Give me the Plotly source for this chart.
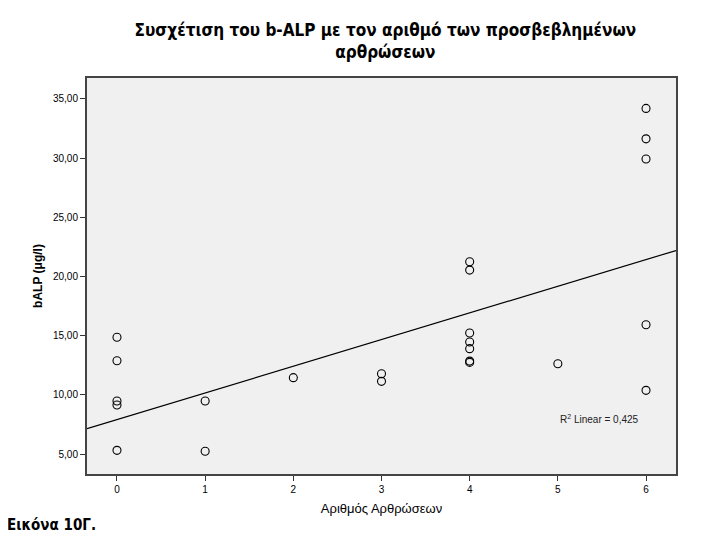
import numpy as np
import plotly.graph_objects as go

# Number of affected joints vs bALP
joints = [0, 0, 0, 0, 0,
          1, 1,
          2,
          3, 3,
          4, 4, 4, 4, 4, 4, 4,
          5,
          6, 6, 6, 6, 6]
balp = [14.86, 12.88, 9.48, 9.14, 5.31,
        9.48, 5.23,
        11.45,
        11.78, 11.14,
        21.24, 20.54, 15.22, 14.46, 13.90, 12.85, 12.74,
        12.63,
        34.20, 31.63, 29.92, 15.92, 10.38]

x_ticks = [0, 1, 2, 3, 4, 5, 6]
y_ticks = [5, 10, 15, 20, 25, 30, 35]

# linear fit drawn across the whole x range
x_range = [-0.34, 6.34]
slope, intercept = np.polyfit(joints, balp, 1)
fit_x = np.array(x_range)
fit_y = slope * fit_x + intercept

fig = go.Figure()
fig.add_trace(go.Scatter(x=joints, y=balp, mode='markers',
                         marker=dict(symbol='circle-open', size=8, color='black', line=dict(width=1.1))))
fig.add_trace(go.Scatter(x=fit_x, y=fit_y, mode='lines', line=dict(color='black', width=1.2)))

fig.add_annotation(x=5.47, y=7.96, text='R<sup>2</sup> Linear = 0,425', showarrow=False,
                   font=dict(family='Liberation Sans', size=10, color='#222'))
# figure caption, bottom left
fig.add_annotation(x=-0.139, y=-0.129, xref='paper', yref='paper', xanchor='left', yanchor='middle',
                   text='<b>Εικόνα 10Γ.</b>', showarrow=False,
                   font=dict(family='DejaVu Sans Condensed', size=15, color='black'))

# page has an 8px body margin, so the figure is 8px smaller than the window
fig.update_layout(
    width=712, height=532,
    margin=dict(l=79, r=44, t=70, b=66),
    paper_bgcolor='white', plot_bgcolor='#f0f0f0',
    showlegend=False,
    separators=',.',
    font=dict(family='Liberation Sans', size=10, color='black'),
    title=dict(text='<b>Συσχέτιση του b-ALP με τον αριθμό των προσβεβλημένων<br>αρθρώσεων</b>',
               x=0.53, xanchor='center', y=0.948, yanchor='top',
               font=dict(family='DejaVu Sans Condensed', size=17, color='black')),
)
fig.update_xaxes(range=x_range, tickvals=x_ticks, ticks='outside', ticklen=5, tickcolor='#333',
                 showgrid=False, zeroline=False, showline=True, linecolor='#444', linewidth=2, mirror=True,
                 title=dict(text='Αριθμός Αρθρώσεων', font=dict(size=13), standoff=10))
fig.update_yaxes(range=[3.31, 36.77], tickvals=y_ticks, tickformat='.2f', ticks='outside', ticklen=5,
                 tickcolor='#333', showgrid=False, zeroline=False, showline=True, linecolor='#444',
                 linewidth=2, mirror=True,
                 title=dict(text='<b>bALP (μg/l)</b>', font=dict(size=12), standoff=8))

fig.write_html("out.html")
